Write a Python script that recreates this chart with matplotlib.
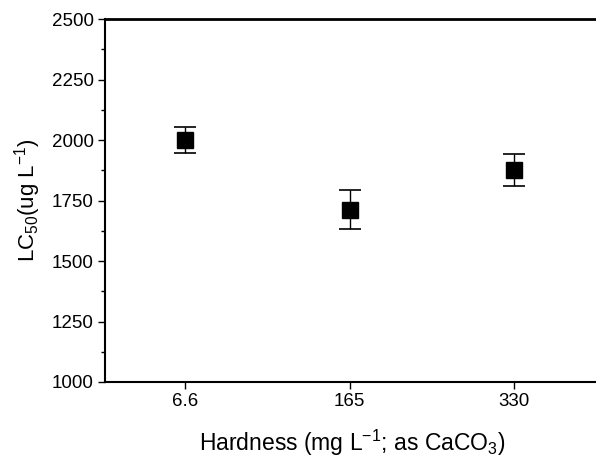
import matplotlib
matplotlib.use('Agg')
import matplotlib.pyplot as plt
from matplotlib.ticker import MultipleLocator

# Hardness groups and LC50 values
hardness = ['6.6', '165', '330']
lc50 = [2000, 1712, 1876]
lc50_err = [55, 80, 66]

plt.rcParams['font.family'] = ['Liberation Sans', 'DejaVu Sans']
plt.rcParams['mathtext.fontset'] = 'custom'
plt.rcParams['mathtext.rm'] = 'Liberation Sans'
plt.rcParams['mathtext.it'] = 'Liberation Sans'

fig = plt.figure(figsize=(5.96, 4.65), dpi=100)
ax = fig.add_axes([0.176, 0.1785, 0.83, 0.7805])

x = range(len(hardness))
ax.errorbar(x, lc50, yerr=lc50_err, fmt='s', color='black', ms=11.5,
            ecolor='black', elinewidth=1.0, capsize=8, capthick=1.2)

ax.set_xlim(-0.49, 2.52)
ax.set_ylim(1000, 2500)
ax.set_xticks(list(x))
ax.set_xticklabels(hardness)
ax.yaxis.set_major_locator(MultipleLocator(250))
ax.yaxis.set_minor_locator(MultipleLocator(125))

ax.tick_params(axis='both', which='major', direction='out', length=5,
               width=1.0, labelsize=13.5, pad=3)
ax.tick_params(axis='y', which='minor', direction='out', length=3, width=1.0)

for side in ['left', 'bottom']:
    ax.spines[side].set_linewidth(1.5)
ax.spines['top'].set_linewidth(2.0)
ax.spines['right'].set_visible(False)

ax.set_xlabel(r'Hardness (mg L$^{-1}$; as CaCO$_{3}$)', fontsize=16.5, labelpad=13)
ax.set_ylabel(r'LC$_{50}$(ug L$^{-1}$)', fontsize=16, labelpad=6)

fig.savefig('out.png', dpi=100)
